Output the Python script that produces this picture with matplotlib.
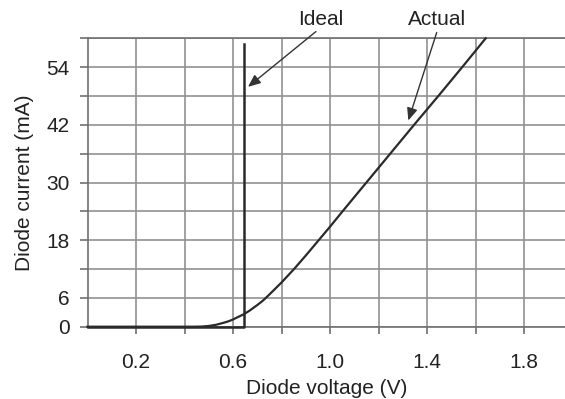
import matplotlib
matplotlib.use("Agg")
import matplotlib.pyplot as plt
import numpy as np

plt.rcParams['font.family'] = ['Liberation Sans', 'DejaVu Sans']

# Data
actual_v = [0.0, 0.44, 0.47, 0.50, 0.53, 0.56, 0.58, 0.60, 0.62, 0.645, 0.67, 0.70,
            0.725, 0.75, 0.80, 0.85, 0.90, 0.95, 1.00, 1.05, 1.15, 1.25, 1.35, 1.45,
            1.55, 1.642]
actual_i = [0.0, 0.0, 0.03, 0.15, 0.4, 0.8, 1.1, 1.5, 2.0, 2.6, 3.4, 4.5,
            5.5, 6.7, 9.2, 11.9, 14.8, 17.8, 20.8, 23.9, 30.0, 36.1, 42.2, 48.2,
            54.3, 60.0]
ideal_v = [0.0, 0.645, 0.645]
ideal_i = [0.0, 0.0, 58.8]

x_ticks = [0.2, 0.4, 0.6, 0.8, 1.0, 1.2, 1.4, 1.6, 1.8]
x_labels = ['0.2', '', '0.6', '', '1.0', '', '1.4', '', '1.8']
y_ticks = [0, 6, 12, 18, 24, 30, 36, 42, 48, 54, 60]
y_labels = ['0', '6', '', '18', '', '30', '', '42', '', '54', '']

fig = plt.figure(figsize=(5.65, 3.99), dpi=100)
ax = fig.add_axes([87.5/565, (399-326.7)/399, 1-87.5/565, (326.7-38.3)/399])

grid_c = '#919191'
ax.set_xlim(0, 1.969)
ax.set_ylim(0, 60)
ax.set_xticks(x_ticks)
ax.set_xticklabels(x_labels)
ax.set_yticks(y_ticks)
ax.set_yticklabels(y_labels)
ax.grid(True, color=grid_c, linewidth=1.2)
ax.set_axisbelow(True)
ax.spines['right'].set_visible(False)
for s in ['left', 'bottom', 'top']:
    ax.spines[s].set_color('#6f6f6f')
    ax.spines[s].set_linewidth(1.2)
ax.tick_params(axis='x', length=5, width=1.2, color='#6f6f6f', pad=14,
               labelsize=15, labelcolor='#222222')
ax.tick_params(axis='y', length=6, width=1.2, color='#6f6f6f', pad=7,
               labelsize=15, labelcolor='#222222')

ax.plot(actual_v, actual_i, color='#2a2a2a', linewidth=1.6, clip_on=False, zorder=3,
        solid_joinstyle='round')
ax.plot(ideal_v, ideal_i, color='#2a2a2a', linewidth=1.8, clip_on=False, zorder=3)

ax.set_xlabel('Diode voltage (V)', fontsize=15, color='#222222', labelpad=5)
ax.set_ylabel('Diode current (mA)', fontsize=15, color='#222222', labelpad=9)

arrow_kw = dict(arrowstyle='-|>,head_length=0.75,head_width=0.32', color='#333333',
                linewidth=1.0, shrinkA=0, shrinkB=0)
ax.annotate('', xy=(0.662, 49.9), xytext=(0.942, 61.4), arrowprops=arrow_kw,
            annotation_clip=False)
ax.annotate('', xy=(1.323, 42.9), xytext=(1.44, 61.2), arrowprops=arrow_kw,
            annotation_clip=False)
ax.text(0.961, 64.0, 'Ideal', fontsize=15, color='#222222', ha='center', va='center',
        clip_on=False)
ax.text(1.443, 64.0, 'Actual', fontsize=15, color='#222222', ha='center', va='center',
        clip_on=False)

fig.savefig('out.png', dpi=100)
